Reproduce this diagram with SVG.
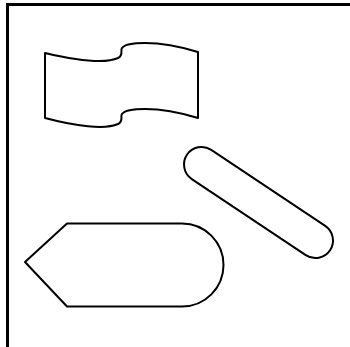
<svg xmlns="http://www.w3.org/2000/svg" width="350" height="347" viewBox="0 0 350 347">
<style>
.s{fill:#fff;stroke:#000;stroke-width:2;stroke-linejoin:round}
.f{fill:none;stroke:#000;stroke-width:3}
</style>
<rect width="350" height="347" fill="#fff"/>
<g id="frame"><path class="f" d="M7.5,347 V4.5 H350"/></g>
<g id="tape"><path class="s" d="M45,53 C75,60 105,64 118,58 C124,55 120,50 122,48 C125,44 135,43 145,43 C165,43 185,48 198,52 V118 C185,114 165,109 145,109 C135,109 125,110 122,114 C120,116 124,121 118,124 C105,130 75,126 45,118 Z"/></g>
<g id="pill"><rect class="s" x="172.5" y="185" width="172" height="35" rx="17.5" transform="rotate(33.7 258.5 202.5)"/></g>
<g id="display"><path class="s" d="M25,262 L67,223.5 H182 A41.5,41.5 0 0 1 182,306.5 H67 Z"/></g>
<g id="connectors"></g>
</svg>
